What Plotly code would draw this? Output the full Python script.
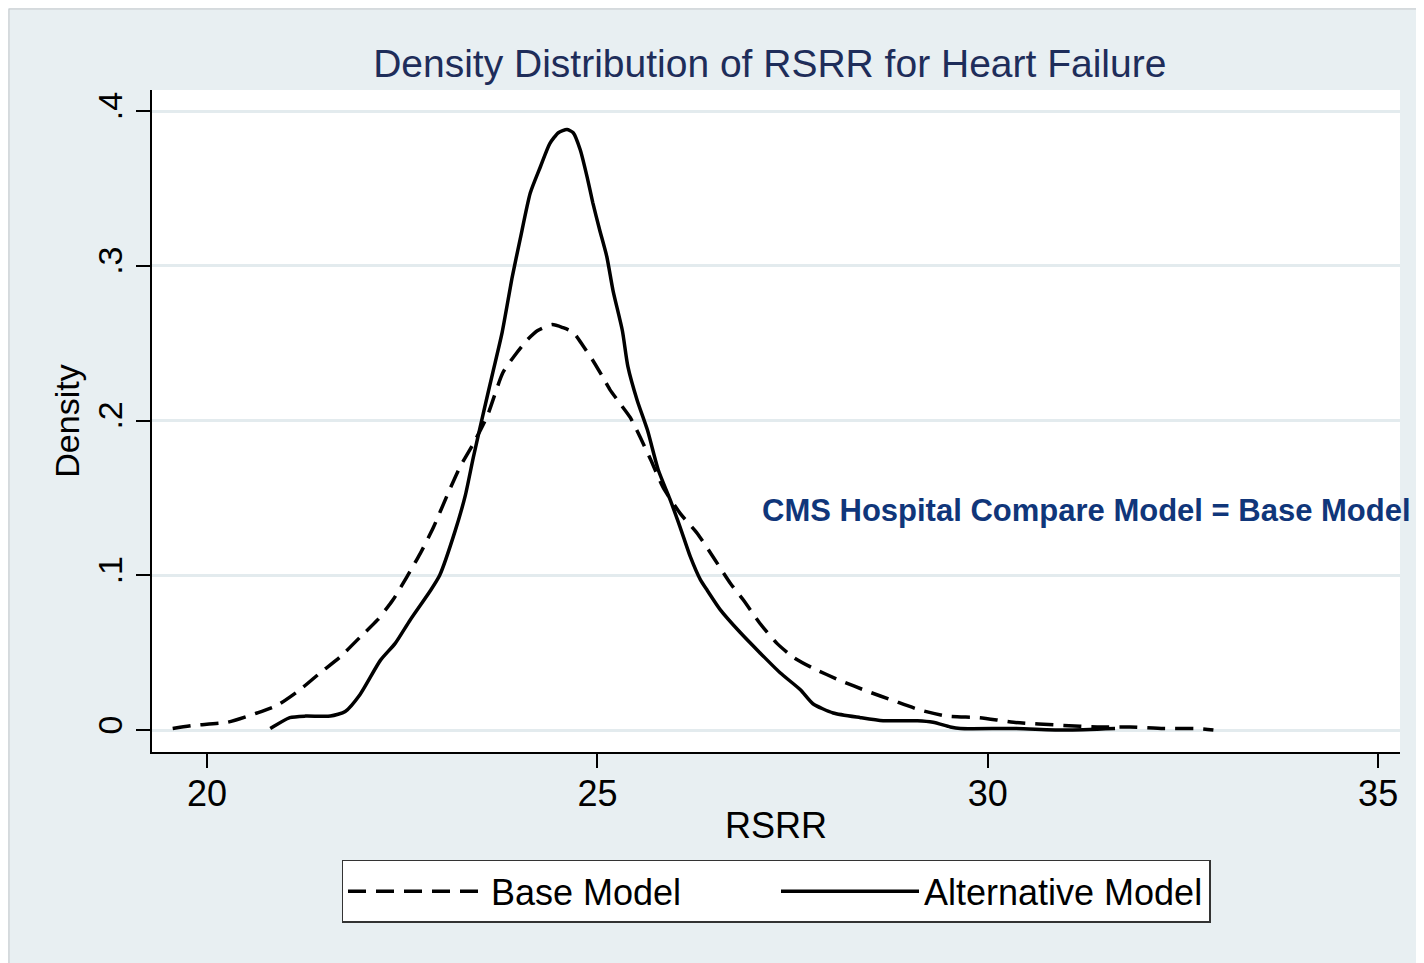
import plotly.graph_objects as go

# ---- data ----
base_x = [19.56, 19.82, 20.26, 20.64, 20.90, 21.19, 21.45, 21.70, 21.96, 22.18, 22.38, 22.56,
          22.73, 22.90, 23.07, 23.24, 23.41, 23.59, 23.79, 23.97, 24.10, 24.23, 24.42, 24.56,
          24.69, 24.82, 24.94, 25.07, 25.16, 25.29, 25.42, 25.55, 25.68, 25.84, 26.06, 26.28,
          26.48, 26.70, 26.87, 27.08, 27.30, 27.51, 27.76, 28.11, 28.46, 28.79, 29.13, 29.48,
          29.90, 30.33, 30.97, 31.40, 31.82, 32.25, 32.68, 32.89]
base_y = [0.001, 0.003, 0.005, 0.011, 0.016, 0.026, 0.037, 0.047, 0.060, 0.071, 0.084, 0.099,
          0.114, 0.131, 0.151, 0.170, 0.185, 0.203, 0.231, 0.244, 0.252, 0.258, 0.262, 0.260,
          0.257, 0.248, 0.239, 0.228, 0.220, 0.211, 0.202, 0.189, 0.175, 0.157, 0.140, 0.127,
          0.112, 0.095, 0.084, 0.069, 0.056, 0.047, 0.040, 0.032, 0.025, 0.019, 0.013, 0.009,
          0.008, 0.005, 0.003, 0.002, 0.002, 0.001, 0.001, 0.000]

alt_x = [20.81, 21.06, 21.26, 21.58, 21.77, 21.96, 22.22, 22.41, 22.60, 22.86, 22.98, 23.18,
         23.31, 23.41, 23.54, 23.66, 23.78, 23.91, 24.01, 24.14, 24.27, 24.39, 24.50, 24.61,
         24.69, 24.78, 24.87, 24.94, 25.03, 25.12, 25.20, 25.32, 25.39, 25.51, 25.64, 25.78,
         25.93, 26.06, 26.19, 26.32, 26.41, 26.57, 26.83, 27.08, 27.34, 27.60, 27.76, 28.02,
         28.37, 28.66, 29.10, 29.30, 29.52, 29.65, 30.33, 31.00, 31.63]
alt_y = [0.001, 0.008, 0.009, 0.009, 0.012, 0.023, 0.045, 0.056, 0.071, 0.090, 0.100, 0.129,
         0.152, 0.176, 0.205, 0.231, 0.257, 0.293, 0.317, 0.347, 0.364, 0.379, 0.386, 0.388,
         0.386, 0.375, 0.357, 0.341, 0.323, 0.306, 0.284, 0.258, 0.235, 0.213, 0.194, 0.168,
         0.149, 0.131, 0.112, 0.097, 0.090, 0.078, 0.063, 0.050, 0.037, 0.026, 0.017, 0.011,
         0.008, 0.006, 0.006, 0.005, 0.002, 0.001, 0.001, 0.000, 0.001]

series_names = ["Base Model", "Alternative Model"]
x_ticks = [20, 25, 30, 35]
y_ticks = [0, 0.1, 0.2, 0.3, 0.4]
y_tick_labels = ["0", ".1", ".2", ".3", ".4"]
title_text = "Density Distribution of RSRR for Heart Failure"
note_text = "CMS Hospital Compare Model = Base Model"

# ---- styling ----
BG = "#e8eff2"
GRID = "#e3ebee"
FONT = "Liberation Sans, Arial, sans-serif"

fig = go.Figure()
fig.add_trace(go.Scatter(x=base_x, y=base_y, mode="lines", name=series_names[0],
                         line=dict(color="black", width=3.5, dash="18px,10px", shape="spline", smoothing=0.6)))
fig.add_trace(go.Scatter(x=alt_x, y=alt_y, mode="lines", name=series_names[1],
                         line=dict(color="black", width=3.5, shape="spline", smoothing=0.6)))

# thin border round the outer (light blue) frame
fig.add_shape(type="rect", xref="paper", yref="paper", x0=-0.1146, x1=1.05, y0=-0.4, y1=1.1224,
              fillcolor="rgba(0,0,0,0)", line=dict(color="#c4c8ca", width=1), layer="below")

fig.add_annotation(x=27.08, y=0.142, xref="x", yref="y", text=note_text, showarrow=False,
                   xanchor="left", yanchor="middle",
                   font=dict(family=FONT, size=31, color="#10367a", weight="bold"))

fig.update_layout(
    width=1416, height=955,
    paper_bgcolor=BG, plot_bgcolor="white",
    margin=dict(l=144, r=24, t=82, b=211),
    title=dict(text=title_text, xref="paper", x=0.495, xanchor="center",
               yref="container", y=1 - 55 / 955, yanchor="middle",
               font=dict(family=FONT, size=39, color="#1e2d5a")),
    font=dict(family=FONT, color="black"),
    showlegend=True,
    legend=dict(orientation="h", x=0.5, xanchor="center", y=-0.163, yanchor="top",
                bgcolor="white", bordercolor="#333333", borderwidth=1.5,
                font=dict(family=FONT, size=36, color="black"),
                itemwidth=138, entrywidth=280, entrywidthmode="pixels"),
)
fig.update_xaxes(range=[19.295, 35.28], tickvals=x_ticks, ticks="outside", ticklen=14,
                 tickwidth=2, tickcolor="black", showline=True, linecolor="black", linewidth=2,
                 showgrid=False, zeroline=False, tickfont=dict(size=36, family=FONT),
                 ticklabelstandoff=-5,
                 title=dict(text="RSRR", font=dict(size=36, family=FONT), standoff=0))
fig.update_yaxes(range=[-0.0142, 0.4136], tickvals=y_ticks, ticktext=y_tick_labels,
                 ticks="outside", ticklen=14, tickwidth=2, tickcolor="black", tickangle=-90,
                 showline=True, linecolor="black", linewidth=2,
                 showgrid=True, gridcolor=GRID, gridwidth=3, zeroline=False,
                 tickfont=dict(size=34, family=FONT),
                 title=dict(text="Density", font=dict(size=34, family=FONT), standoff=2))

fig.write_html("out.html")
